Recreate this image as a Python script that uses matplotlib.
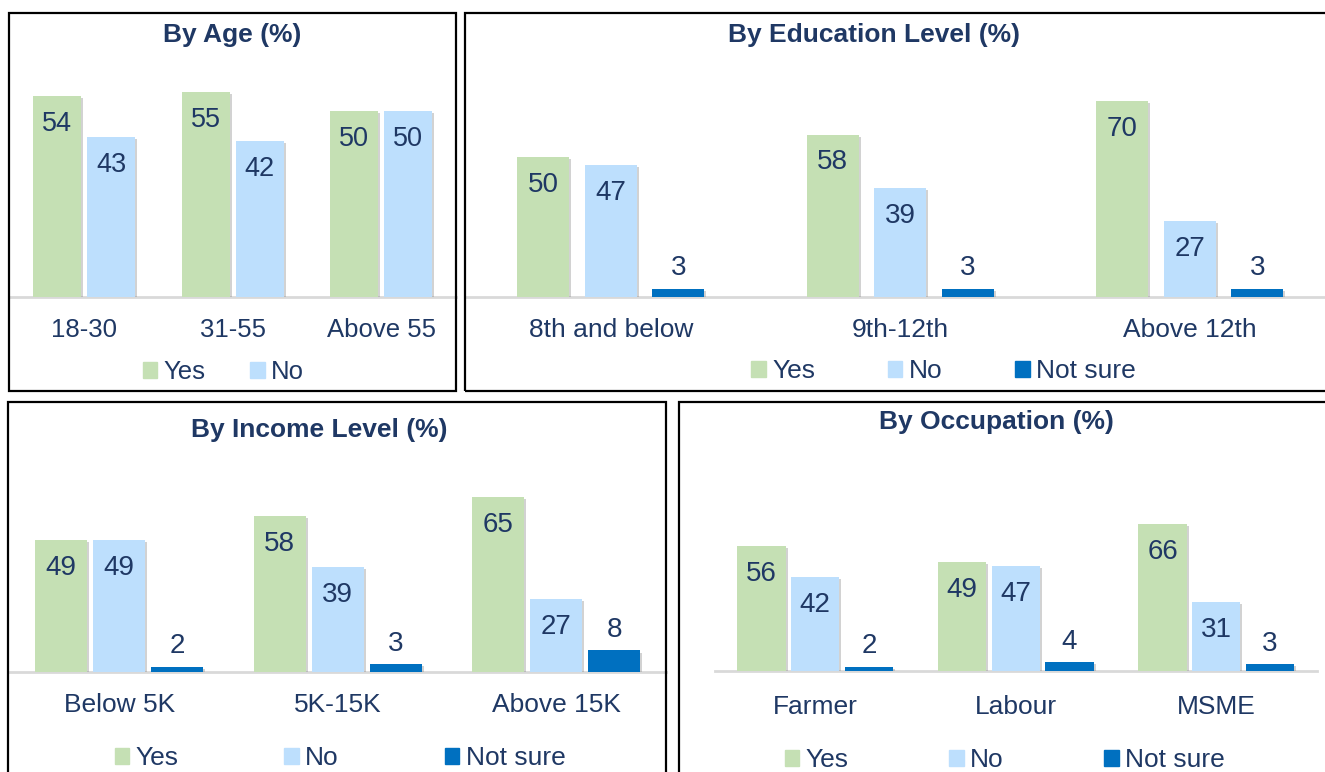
import matplotlib
matplotlib.use("Agg")
import matplotlib.pyplot as plt
import matplotlib.patheffects as pe
from matplotlib.patches import Rectangle, Patch
import numpy as np

plt.rcParams["font.family"] = ["Liberation Sans", "DejaVu Sans"]

W, H = 1325, 772
NAVY = "#1F3864"
GREEN = "#C5E0B4"
LBLUE = "#BDDFFD"
BLUE = "#0070C0"
AXIS_GRAY = "#D9D9D9"

# data
age_cats = ["18-30", "31-55", "Above 55"]
age_yes = [54, 55, 50]
age_no = [43, 42, 50]

edu_cats = ["8th and below", "9th-12th", "Above 12th"]
edu_yes = [50, 58, 70]
edu_no = [47, 39, 27]
edu_notsure = [3, 3, 3]

inc_cats = ["Below 5K", "5K-15K", "Above 15K"]
inc_yes = [49, 58, 65]
inc_no = [49, 39, 27]
inc_notsure = [2, 3, 8]

occ_cats = ["Farmer", "Labour", "MSME"]
occ_yes = [56, 49, 66]
occ_no = [42, 47, 31]
occ_notsure = [2, 4, 3]

series_names = ["Yes", "No", "Not sure"]
series_colors = [GREEN, LBLUE, BLUE]

fig = plt.figure(figsize=(W / 100, H / 100), dpi=100)
fig.patch.set_facecolor("white")


def border(x0, y0, x1, y1):
    r = Rectangle((x0 / W, 1 - y1 / H), (x1 - x0) / W, (y1 - y0) / H,
                  transform=fig.transFigure, fill=False, ec="black", lw=1.6)
    fig.add_artist(r)


def panel(title, cats, series, left, spacing, baseline, scale, ymax,
          width, offset, title_xy, tick_pad, leg_xy, colspace, fs=19, vfs=20):
    ax = fig.add_axes([left / W, 1 - baseline / H, 3 * spacing / W, ymax * scale / H])
    x = np.arange(len(cats))
    n = len(series)
    for i, vals in enumerate(series):
        pos = x + (i - (n - 1) / 2) * offset
        bars = ax.bar(pos, vals, width, color=series_colors[i], label=series_names[i], zorder=2)
        for b in bars:
            b.set_path_effects([pe.SimplePatchShadow(offset=(1.5, -1.5), shadow_rgbFace="#808080", alpha=0.35),
                                pe.Normal()])
        for p, v in zip(pos, vals):
            if v >= 10:
                ax.annotate(str(v), (p, v), xytext=(0, -20), textcoords="offset points",
                            ha="center", va="center", fontsize=vfs, color=NAVY)
            else:
                ax.annotate(str(v), (p, v), xytext=(0, 14.5), textcoords="offset points",
                            ha="center", va="center", fontsize=vfs, color=NAVY)
    ax.set_xlim(-0.5, len(cats) - 0.5)
    ax.set_ylim(0, ymax)
    for s in ["top", "left", "right"]:
        ax.spines[s].set_visible(False)
    ax.spines["bottom"].set_color(AXIS_GRAY)
    ax.spines["bottom"].set_linewidth(2)
    ax.spines["bottom"].set_zorder(1)
    ax.set_yticks([])
    ax.set_xticks(x)
    ax.set_xticklabels(cats, fontsize=fs, color=NAVY)
    ax.tick_params(axis="x", length=0, pad=tick_pad)
    ax.patch.set_alpha(0)

    fig.text(title_xy[0] / W, 1 - title_xy[1] / H, title, ha="center", va="center",
             fontsize=19, fontweight="bold", color=NAVY)

    handles = [Patch(color=series_colors[i], label=series_names[i]) for i in range(n)]
    fig.legend(handles=handles, loc="center", bbox_to_anchor=(leg_xy[0] / W, 1 - leg_xy[1] / H),
               ncol=n, frameon=False, fontsize=fs, labelcolor=NAVY,
               handlelength=0.55, handleheight=0.55, handletextpad=0.25,
               columnspacing=colspace, borderpad=0, borderaxespad=0)
    return ax


border(9, 13, 456, 391)
border(465, 13, 1340, 391)
border(8, 402, 666, 800)
border(679, 402, 1340, 800)

panel("By Age (%)", age_cats, [age_yes, age_no],
      left=10, spacing=148.5, baseline=297, scale=3.72, ymax=60,
      width=0.325, offset=0.364, title_xy=(232.5, 35), tick_pad=15,
      leg_xy=(223.5, 372), colspace=1.75, fs=18.5, vfs=19.5)

panel("By Education Level (%)", edu_cats, [edu_yes, edu_no, edu_notsure],
      left=466, spacing=289.5, baseline=297, scale=2.8, ymax=80,
      width=0.18, offset=0.233, title_xy=(873.5, 35), tick_pad=15,
      leg_xy=(943.5, 371), colspace=2.75)

panel("By Income Level (%)", inc_cats, [inc_yes, inc_no, inc_notsure],
      left=10, spacing=218.5, baseline=672, scale=2.69, ymax=80,
      width=0.238, offset=0.265, title_xy=(319.5, 430), tick_pad=15,
      leg_xy=(340, 758), colspace=4.0)

panel("By Occupation (%)", occ_cats, [occ_yes, occ_no, occ_notsure],
      left=715, spacing=200.5, baseline=671, scale=2.23, ymax=80,
      width=0.24, offset=0.268, title_xy=(996.5, 422), tick_pad=17,
      leg_xy=(1005, 760), colspace=3.8)

fig.savefig("out.png", dpi=100)
